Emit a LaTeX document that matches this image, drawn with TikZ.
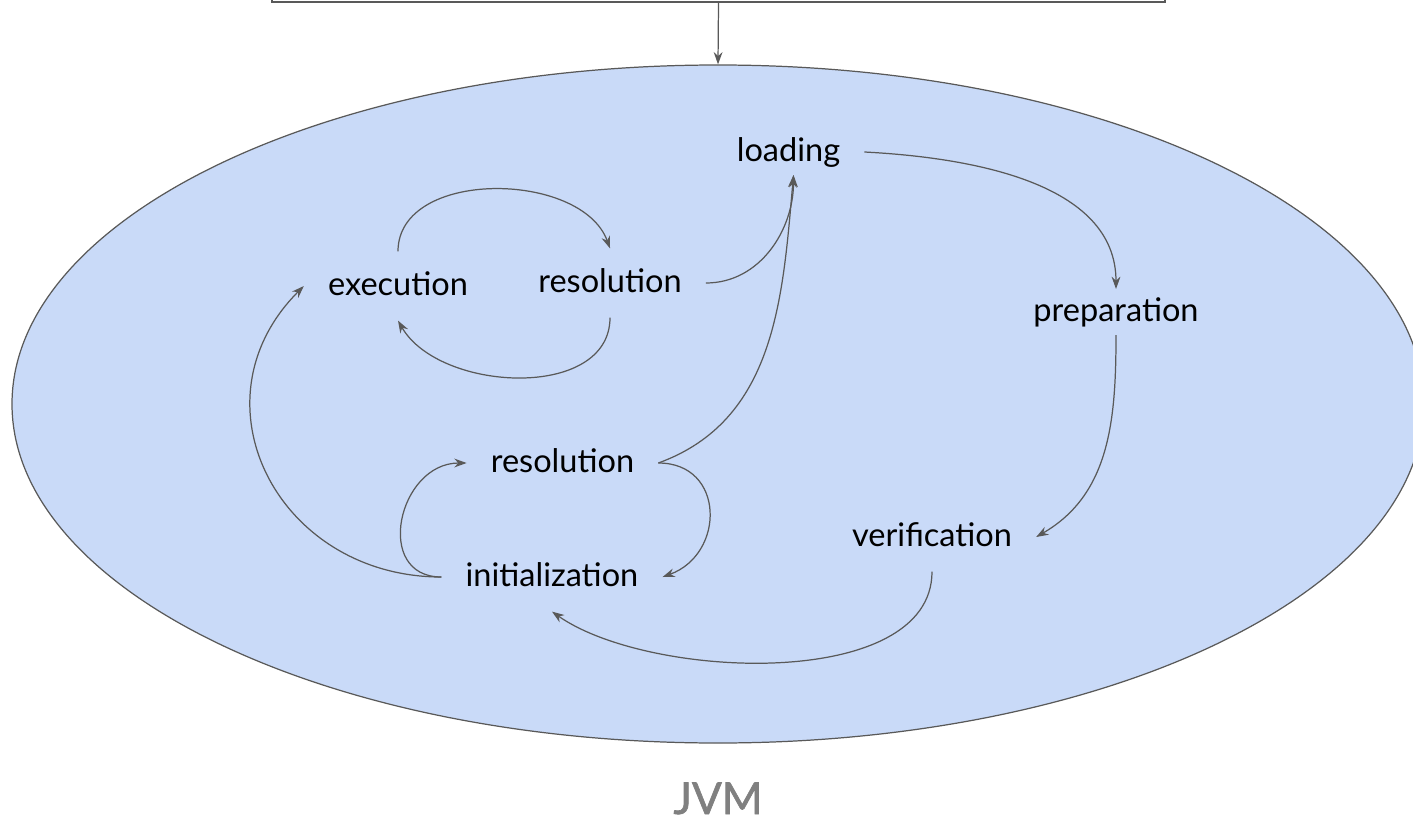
\documentclass[tikz,border=0pt]{standalone}
\usepackage{fontspec}
\setmainfont{Lato}
\newfontfamily\jvmfont[FakeBold=1.5]{Lato}
\usetikzlibrary{arrows.meta, shapes.geometric}
\definecolor{linegray}{HTML}{595959}
\definecolor{jvmfill}{HTML}{C9DAF8}
\definecolor{labelgray}{HTML}{808080}

\begin{document}
\begin{tikzpicture}[
            stage/.style={font=\fontsize{18.5}{22}\selectfont, text height=13pt, text depth=2pt, inner xsep=13.6pt, inner ysep=12pt},
            tight/.style={inner ysep=5.4pt},
            flow/.style={draw=linegray, line width=0.7pt, -{Stealth[length=7pt, width=5pt]}}]
            \clip (0,0) rectangle (28.26,16.44);
            \node[draw=linegray, line width=0.7pt, minimum width=17.86cm, minimum height=1.2cm] (source) at (14.37,17.0) {};
            \node[ellipse, draw=linegray, fill=jvmfill, line width=0.7pt, minimum width=28.24cm, minimum height=13.56cm, inner sep=0pt] (jvm) at (14.36,8.36) {};
            \draw[flow] (source.south) -- (jvm.north);
            \node[stage, tight] (loading) at (15.77,13.40) {loading};
            \node[stage] (execution) at (7.96,10.72) {execution};
            \node[stage] (resolutiontop) at (12.20,10.78) {resolution};
            \node[stage, tight] (preparation) at (22.32,10.20) {preparation};
            \node[stage] (resolutionlow) at (11.25,7.18) {resolution};
            \node[stage] (verification) at (18.64,5.70) {verification};
            \node[stage] (initialization) at (11.04,4.90) {initialization};
            \node[font=\jvmfont\fontsize{25}{30}\selectfont, text=labelgray, anchor=base, inner sep=0pt] (jvmlabel) at (14.36,0.16) {JVM};
            \draw[flow] (loading.east) to[out=-3, in=90, looseness=0.95] (preparation.north);
            \draw[flow] (preparation.south) to[out=-90, in=30] (verification.east);
            \draw[flow] (verification.south) to[out=-90, in=-35, looseness=0.8] (initialization.south);
            \draw[flow] (initialization.west) to[out=180, in=-135, looseness=1.3] (execution.west);
            \draw[flow] (initialization.west) to[out=180, in=180, looseness=1.5] (resolutionlow.west);
            \draw[flow] (resolutionlow.east) to[out=0, in=20, looseness=1.5] (initialization.east);
            \draw[flow] (resolutionlow.east) to[out=20, in=-95] ([xshift=0.1cm]loading.south);
            \draw[flow] (resolutiontop.east) to[out=0, in=-90] ([xshift=0.1cm]loading.south);
            \draw[flow] (execution.north) to[out=90, in=110] (resolutiontop.north);
            \draw[flow] (resolutiontop.south) to[out=-90, in=-60] (execution.south);
\end{tikzpicture}
\end{document}
